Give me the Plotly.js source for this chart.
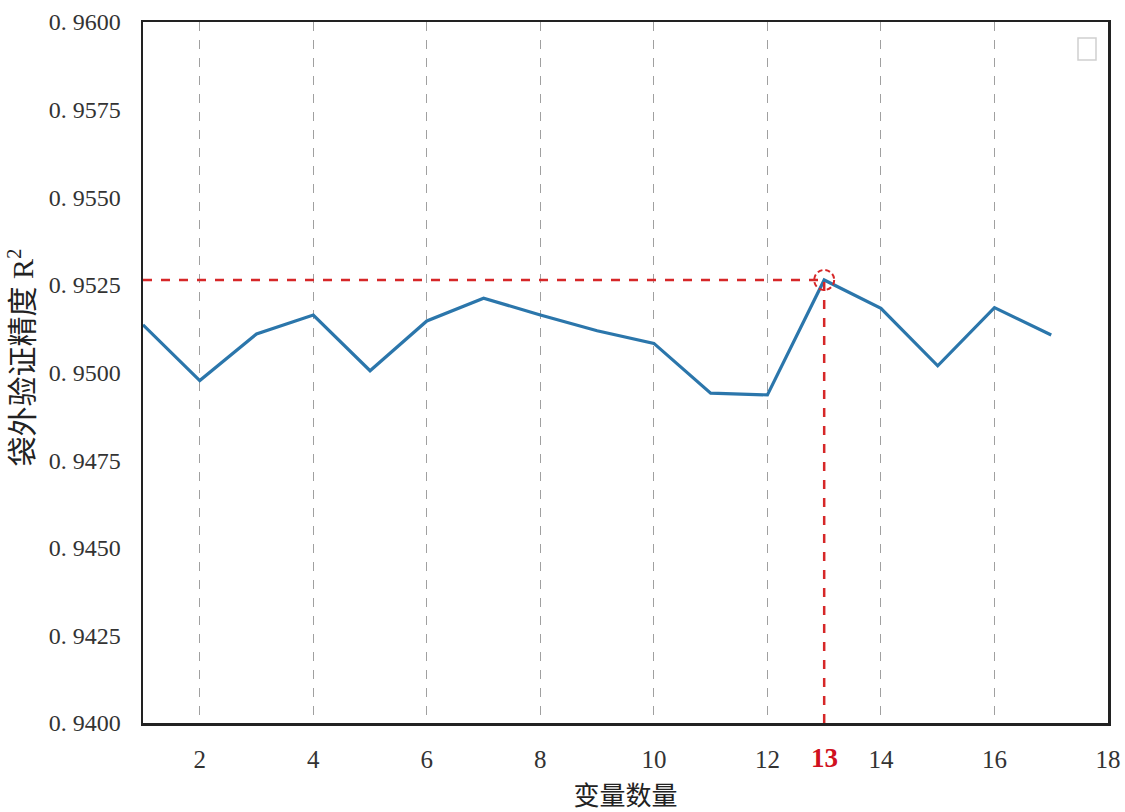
<!DOCTYPE html>
<html>
<head>
<meta charset="utf-8">
<script src="https://cdn.plot.ly/plotly-3.0.1.min.js"></script>
<style>html,body{margin:0;padding:0;background:#fff;}#chart{width:1125px;height:812px;}</style>
</head>
<body>
<div id="chart"></div>
<script>
const varCounts = [1,2,3,4,5,6,7,8,9,10,11,12,13,14,15,16,17];
const oobR2 = [0.95136,0.94977,0.95110,0.95164,0.95005,0.95147,0.95212,0.95164,0.95119,0.95083,0.94941,0.94936,0.95264,0.95183,0.95019,0.95185,0.95107];
const xTickVals = [2,4,6,8,10,12,14,16,18];
const yTickVals = [0.94,0.9425,0.945,0.9475,0.95,0.9525,0.955,0.9575,0.96];
const yTickText = ["0. 9400","0. 9425","0. 9450","0. 9475","0. 9500","0. 9525","0. 9550","0. 9575","0. 9600"];
const bestIdx = oobR2.indexOf(Math.max(...oobR2));
const bestX = varCounts[bestIdx];
const bestY = oobR2[bestIdx];
const xMin = 1, xMax = 18, yMin = 0.94, yMax = 0.96;

const serif = "Liberation Serif, DejaVu Serif, serif";
const mixed = "Liberation Serif, Noto Sans CJK SC, serif";

const traces = [{
  x: varCounts, y: oobR2, type: 'scatter', mode: 'lines',
  line: {color: '#2b76ab', width: 3.2}, showlegend: false, hoverinfo: 'skip'
}];

const layout = {
  width: 1125, height: 812,
  margin: {l: 143, r: 17, t: 22, b: 89},
  paper_bgcolor: '#fff', plot_bgcolor: '#fff',
  showlegend: false,
  xaxis: {
    range: [xMin, xMax], tickvals: xTickVals, ticktext: xTickVals.map(String),
    showgrid: true, gridcolor: '#a0a0a0', gridwidth: 1, griddash: 'dash',
    showline: true, mirror: true, linecolor: '#222', linewidth: 2.5,
    ticks: '', zeroline: false, ticklabelstandoff: 12,
    tickfont: {family: serif, size: 25, color: '#333'},
    title: {text: '变量数量', font: {family: mixed, size: 26, color: '#222'}, standoff: 16}
  },
  yaxis: {
    range: [yMin, yMax], tickvals: yTickVals, ticktext: yTickText,
    showgrid: false, showline: true, mirror: true, linecolor: '#222', linewidth: 2.5,
    ticks: '', zeroline: false, ticklabelstandoff: 15,
    tickfont: {family: serif, size: 24, color: '#333'},
    title: {text: '&nbsp;&nbsp;&nbsp;&nbsp;袋外验证精度 R<sup>2</sup>', font: {family: mixed, size: 30, color: '#222'}, standoff: 6}
  },
  shapes: [
    {type: 'line', xref: 'x', yref: 'y', x0: xMin, x1: bestX, y0: bestY, y1: bestY,
     line: {color: '#d62728', width: 2.5, dash: 'dash'}},
    {type: 'line', xref: 'x', yref: 'y', x0: bestX, x1: bestX, y0: yMin, y1: bestY,
     line: {color: '#d62728', width: 2.5, dash: 'dash'}},
    {type: 'circle', xref: 'x', yref: 'y', xsizemode: 'pixel', ysizemode: 'pixel',
     xanchor: bestX, yanchor: bestY, x0: -10, x1: 10, y0: -10, y1: 10,
     line: {color: '#d62728', width: 2, dash: '5px,3px'}},
    {type: 'rect', xref: 'paper', yref: 'paper', xsizemode: 'pixel', ysizemode: 'pixel',
     xanchor: 1, yanchor: 1, x0: -30, x1: -12, y0: -38, y1: -16,
     line: {color: '#d0d0d0', width: 1.5}, fillcolor: 'rgba(0,0,0,0)'}
  ],
  annotations: [{
    x: bestX, y: 0, xref: 'x', yref: 'paper', yanchor: 'top', yshift: -18,
    text: String(bestX), showarrow: false,
    font: {family: serif, size: 27, color: '#d01020', weight: 'bold'}
  }]
};

Plotly.newPlot('chart', traces, layout, {staticPlot: true, displayModeBar: false});
</script>
</body>
</html>
